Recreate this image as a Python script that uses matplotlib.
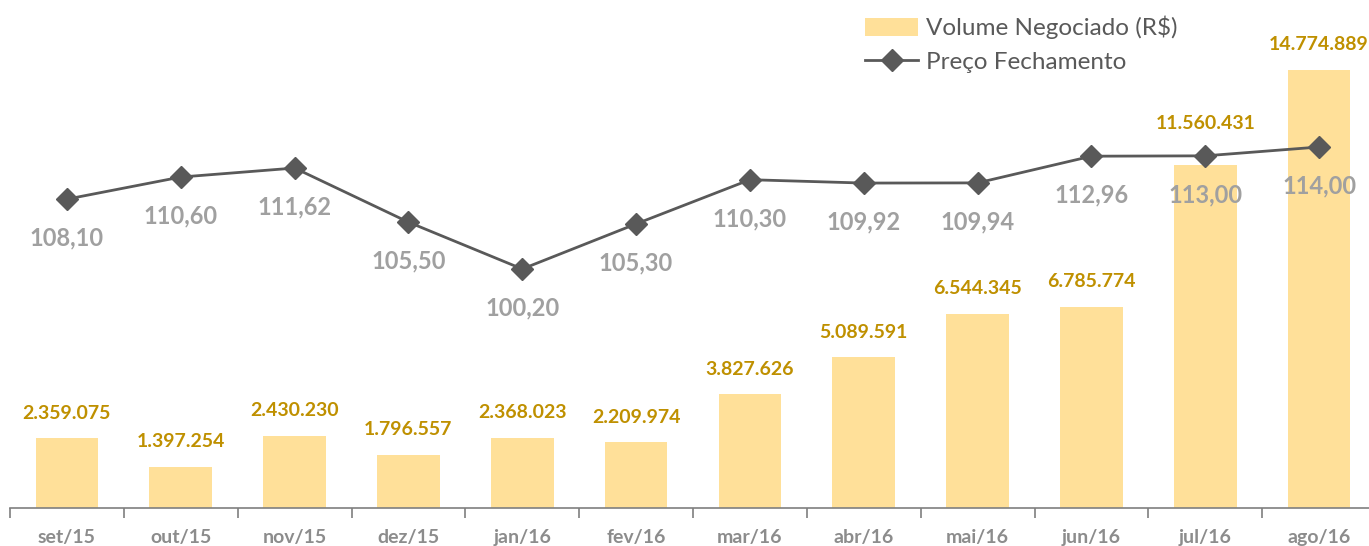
import matplotlib.pyplot as plt
import numpy as np

# Dados
meses = ['set/15', 'out/15', 'nov/15', 'dez/15', 'jan/16', 'fev/16',
         'mar/16', 'abr/16', 'mai/16', 'jun/16', 'jul/16', 'ago/16']
volume = [2359075, 1397254, 2430230, 1796557, 2368023, 2209974,
          3827626, 5089591, 6544345, 6785774, 11560431, 14774889]
preco = [108.10, 110.60, 111.62, 105.50, 100.20, 105.30,
         110.30, 109.92, 109.94, 112.96, 113.00, 114.00]

plt.rcParams['font.family'] = ['Lato', 'DejaVu Sans']

W, H = 1369, 546
fig = plt.figure(figsize=(W / 100, H / 100), dpi=100)
ax = fig.add_axes([10 / W, 38 / H, 1366 / W, 508 / H])
x = np.arange(len(meses))

# Barras
ax.bar(x, volume, width=0.55, color='#FFE099', zorder=1, label='Volume Negociado (R$)')
ax.set_ylim(0, 17.13e6)
ax.set_xlim(-0.5, len(meses) - 0.5)
for xi, v in zip(x, volume):
    txt = '{:,}'.format(v).replace(',', '.')
    dy = 30 if xi == 10 else 18   # rotulo de jul/16 afastado da linha
    ax.annotate(txt, (xi, v), xytext=(0, dy), textcoords='offset points',
                ha='center', va='center', fontsize=14, fontweight='bold', color='#BF9000')

# Eixo x
for s in ['top', 'right', 'left']:
    ax.spines[s].set_visible(False)
ax.spines['bottom'].set_color('#7F7F7F')
ax.spines['bottom'].set_linewidth(1.2)
ax.set_yticks([])
ax.set_xticks(np.arange(len(meses) + 1) - 0.5)
ax.set_xticklabels([])
ax.tick_params(axis='x', which='major', length=7, width=1.2, color='#7F7F7F')
ax.set_xticks(x, minor=True)
ax.set_xticklabels(meses, minor=True)
ax.tick_params(axis='x', which='minor', length=0, pad=15, labelsize=14,
               labelcolor='#8C8C8C')
for lb in ax.get_xticklabels(minor=True):
    lb.set_fontweight('bold')

# Linha de preco
ax2 = ax.twinx()
ax2.set_ylim(73.16, 130.63)
ax2.plot(x, preco, color='#595959', lw=2, marker='D', markersize=11,
         label='Preço Fechamento', zorder=3)
ax2.axis('off')
for xi, p in zip(x, preco):
    txt = '{:.2f}'.format(p).replace('.', ',')
    ax2.annotate(txt, (xi, p), xytext=(0, -28), textcoords='offset points',
                 ha='center', va='center', fontsize=17, fontweight='bold', color='#A0A0A0')

h1, l1 = ax.get_legend_handles_labels()
h2, l2 = ax2.get_legend_handles_labels()
fig.legend(h1 + h2, l1 + l2, loc='upper left', bbox_to_anchor=(843 / W, 1 + 6 / H),
           frameon=False, fontsize=17.5, labelcolor='#595959', handlelength=2.2,
           handleheight=0.8, labelspacing=0.5, handletextpad=0.3)

fig.savefig('out.png', dpi=100)
